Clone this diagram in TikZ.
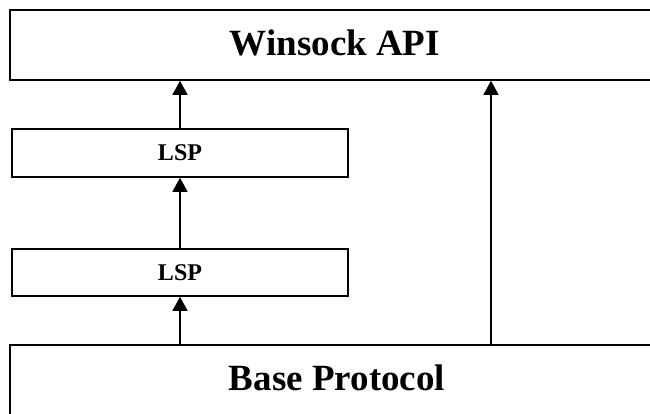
\documentclass[tikz,border=0pt]{standalone}
\usepackage{fontspec}
\setmainfont{Liberation Serif}
\usetikzlibrary{arrows.meta}
\begin{document}
\begin{tikzpicture}[x=1pt,y=-1pt,
  box/.style={draw, line width=1.6pt, inner sep=0pt, rectangle},
  bigtxt/.style={font=\fontsize{37}{40}\selectfont\bfseries, inner sep=0pt, text height=24.5pt, text depth=0pt},
  smalltxt/.style={font=\fontsize{24}{28}\selectfont\bfseries, text height=16pt, text depth=0pt},
  arr/.style={line width=1.2pt, -{Triangle[width=15pt,length=14pt]}}]
\clip (0,0) rectangle (650,414);
\node[box, minimum width=670pt, minimum height=70pt] (win) at (345,45) {};
\node[bigtxt] (wintxt) at (335,43.5) {Winsock API};
\node[box, minimum width=670pt, minimum height=85pt] (base) at (345,387.5) {};
\node[bigtxt] (basetxt) at (337,378.5) {Base Protocol};
\node[box, smalltxt, minimum width=336pt, minimum height=48pt] (lsp1) at (180,153) {LSP};
\node[box, smalltxt, minimum width=336pt, minimum height=47pt] (lsp2) at (180,272.5) {LSP};
\draw[arr] (lsp1.north) -- (win.south -| lsp1.north);
\draw[arr] (lsp2.north) -- (lsp1.south);
\draw[arr] (base.north -| lsp2.south) -- (lsp2.south);
\coordinate (rt) at (491,345);
\draw[arr] (rt) -- (rt |- win.south);
\end{tikzpicture}
\end{document}
